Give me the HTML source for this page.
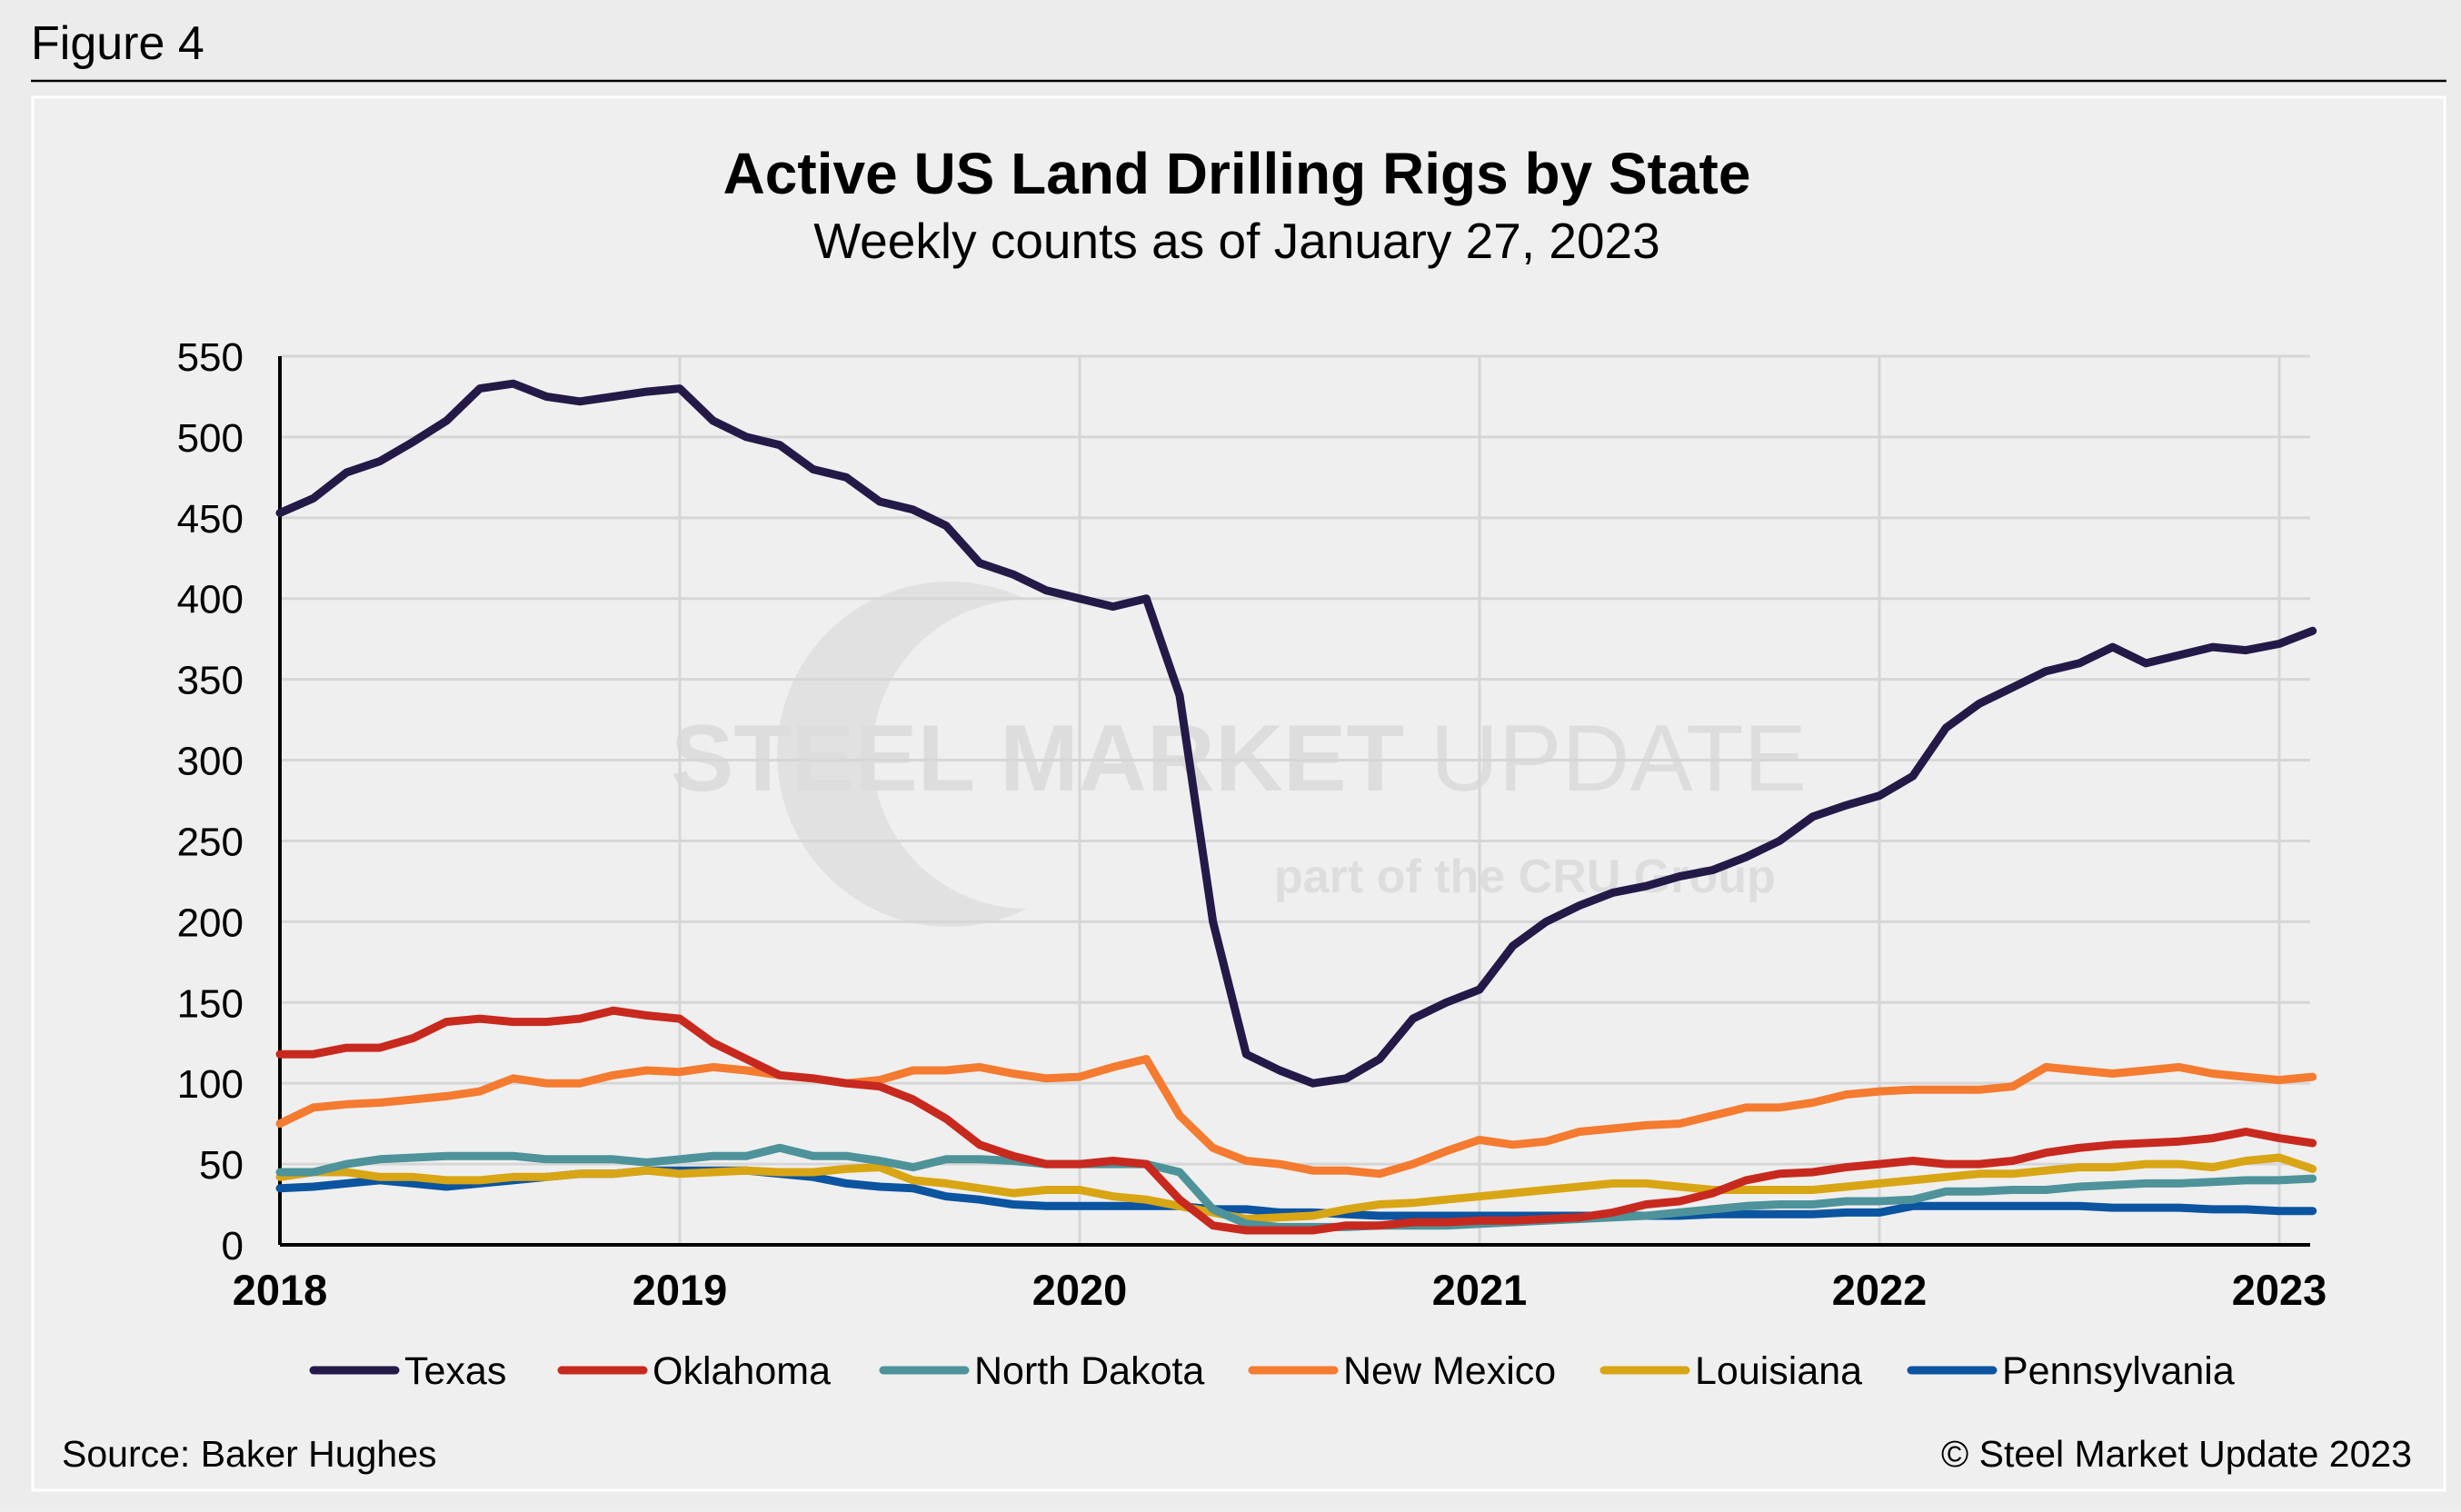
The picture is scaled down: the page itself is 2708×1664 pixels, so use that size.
<!DOCTYPE html>
<html><head><meta charset="utf-8"><style>
html,body{margin:0;padding:0;background:#ededed;}
svg text{font-family:"Liberation Sans",Arial,sans-serif;}
</style></head><body>
<svg id="chart" width="2708" height="1659" viewBox="0 0 2708 1659" xmlns="http://www.w3.org/2000/svg">
<rect x="0" y="0" width="2708" height="1659" fill="#ececec"/>
<text x="34" y="65" font-size="52" fill="#000">Figure 4</text>
<line x1="34" y1="89" x2="2692" y2="89" stroke="#000" stroke-width="2.5"/>
<rect x="36" y="107" width="2654" height="1533" fill="#efefef" stroke="#fff" stroke-width="3"/>
<text x="1361" y="213" font-size="64" font-weight="bold" text-anchor="middle">Active US Land Drilling Rigs by State</text>
<text x="1361" y="284" font-size="55" text-anchor="middle">Weekly counts as of January 27, 2023</text>
<g opacity="0.55">
<path d="M1130 660 A 190 190 0 1 0 1130 1000 A 160 160 0 1 1 1130 660 Z" fill="#d6d6d6"/>
<text x="738" y="870" font-size="104" font-weight="bold" fill="#cfcfcf">STEEL MARKET <tspan font-weight="normal">UPDATE</tspan></text>
<text x="1402" y="982" font-size="52" font-weight="bold" fill="#cfcfcf">part of the CRU Group</text>
</g>
<g id="grid"></g>
<g id="axes"></g>
<g id="series"></g>
<g id="legend"></g>
<text x="68" y="1614" font-size="41">Source: Baker Hughes</text>
<text x="2654" y="1614" font-size="41" text-anchor="end">© Steel Market Update 2023</text>
</svg>
<script>
const yearTicks=[2018,2019,2020,2021,2022,2023];
const yTicks=[0,50,100,150,200,250,300,350,400,450,500,550];
const seriesNames=["Texas","Oklahoma","North Dakota","New Mexico","Louisiana","Pennsylvania"];
const seriesColors=["#231a48","#c8291e","#4e9399","#f47b30","#d8a514","#0a54a0"];
const startYear=2018, monthStep=1/12;
const texas=[453,462,478,485,497,510,530,533,525,522,525,528,530,510,500,495,480,475,460,455,445,422,415,405,400,395,400,340,200,118,108,100,103,115,140,150,158,185,200,210,218,222,228,232,240,250,265,272,278,290,320,335,345,355,360,370,360,365,370,368,372,380];
const oklahoma=[118,118,122,122,128,138,140,138,138,140,145,142,140,125,115,105,103,100,98,90,78,62,55,50,50,52,50,28,12,9,9,9,12,12,14,14,15,15,16,17,20,25,27,32,40,44,45,48,50,52,50,50,52,57,60,62,63,64,66,70,66,63];
const northDakota=[45,45,50,53,54,55,55,55,53,53,53,51,53,55,55,60,55,55,52,48,53,53,52,50,50,50,50,45,22,13,11,11,11,12,12,12,13,14,15,16,17,18,20,22,24,25,25,27,27,28,33,33,34,34,36,37,38,38,39,40,40,41];
const newMexico=[75,85,87,88,90,92,95,103,100,100,105,108,107,110,108,105,103,100,102,108,108,110,106,103,104,110,115,80,60,52,50,46,46,44,50,58,65,62,64,70,72,74,75,80,85,85,88,93,95,96,96,96,98,110,108,106,108,110,106,104,102,104];
const louisiana=[42,45,45,42,42,40,40,42,42,44,44,46,44,45,46,45,45,47,48,40,38,35,32,34,34,30,28,24,20,16,17,18,22,25,26,28,30,32,34,36,38,38,36,34,34,34,34,36,38,40,42,44,44,46,48,48,50,50,48,52,54,47];
const pennsylvania=[35,36,38,40,38,36,38,40,42,44,44,46,46,46,46,44,42,38,36,35,30,28,25,24,24,24,24,24,22,22,20,20,19,18,18,18,18,18,18,18,18,18,18,19,19,19,19,20,20,24,24,24,24,24,24,23,23,23,22,22,21,21];
const allSeries=[texas,oklahoma,northDakota,newMexico,louisiana,pennsylvania];

const NS="http://www.w3.org/2000/svg";
const X0=308,X1=2508,Y0=1370,Y1=392;
const xs=t=>X0+(t-2018)/(2023-2018)*(X1-X0);
const ys=v=>Y0+(v/550)*(Y1-Y0);
function mk(tag,attrs,parent,text){const e=document.createElementNS(NS,tag);for(const k in attrs)e.setAttribute(k,attrs[k]);if(text!==undefined)e.textContent=text;parent.appendChild(e);return e;}
const grid=document.getElementById('grid'),axes=document.getElementById('axes'),ser=document.getElementById('series'),leg=document.getElementById('legend');
const plotRight=2542;
yTicks.forEach(v=>{
  if(v>0){const g=mk('line',{x1:X0,x2:plotRight,y1:ys(v),y2:ys(v),stroke:'#d6d6d6','stroke-width':3},grid);
  
  }
  const t=mk('text',{x:268,y:ys(v)+16,'font-size':44,'text-anchor':'end'},axes,String(v));
  
  
});
yearTicks.forEach(y=>{
  if(y>2018){const g=mk('line',{x1:xs(y),x2:xs(y),y1:Y1,y2:Y0,stroke:'#d6d6d6','stroke-width':3},grid);
  
  }
  const t=mk('text',{x:xs(y),y:1436,'font-size':47,'font-weight':'bold','text-anchor':'middle'},axes,String(y));
  
  
});
const ya=mk('line',{x1:X0,x2:X0,y1:Y1,y2:Y0,stroke:'#000','stroke-width':4},axes);


const xa=mk('line',{x1:X0,x2:plotRight,y1:Y0,y2:Y0,stroke:'#000','stroke-width':4},axes);


for(let s=allSeries.length-1;s>=0;s--){
  const d=allSeries[s].map((v,i)=>(i?'L':'M')+xs(startYear+i*monthStep).toFixed(1)+' '+ys(v).toFixed(1)).join(' ');
  const p=mk('path',{d:d,fill:'none',stroke:seriesColors[s],'stroke-width':9,'stroke-linejoin':'round','stroke-linecap':'round'},ser);
  
  
}
const legX=[345,618,972,1378,1765,2103];
seriesNames.forEach((n,i)=>{
  const g=mk('g',{},leg);
  
  
  mk('line',{x1:legX[i],x2:legX[i]+90,y1:1508,y2:1508,stroke:seriesColors[i],'stroke-width':9,'stroke-linecap':'round'},g);
  mk('text',{x:legX[i]+100,y:1523,'font-size':43},g,n);
});
</script>
</body></html>
